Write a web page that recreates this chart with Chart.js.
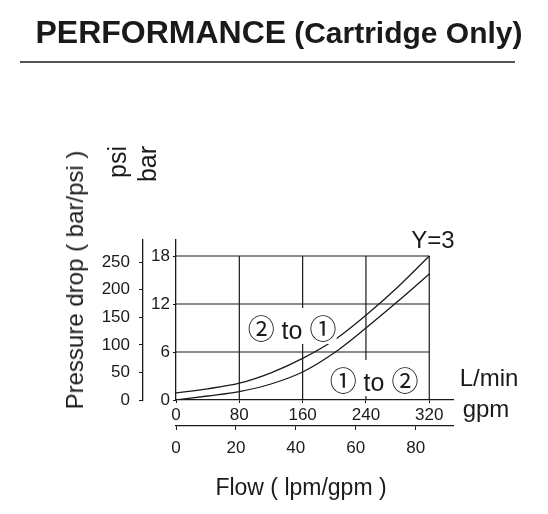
<!DOCTYPE html>
<html>
<head>
<meta charset="utf-8">
<script src="https://cdn.jsdelivr.net/npm/chart.js@4/dist/chart.umd.min.js"></script>
<style>
  html, body { margin: 0; padding: 0; background: #fff; }
  #wrap { position: relative; width: 548px; height: 514px; overflow: hidden;
          font-family: "Liberation Sans", Arial, "Noto Sans CJK JP", sans-serif; color: #1a1a1a; }
  #chart { position: absolute; left: 0; top: 0; }
  .lbl { position: absolute; white-space: nowrap; transform: translate(-50%, -50%); line-height: 1; }
  .rot { transform: translate(-50%, -50%) rotate(-90deg); }
  .tag { background: #fff; padding: 6px 0 1px; }
  .tag .c { font-family: "Noto Sans CJK JP", "DejaVu Sans", sans-serif; font-size: 27px; }
  #title { position: absolute; left: 5px; width: 548px; top: 14px; text-align: center;
           font-weight: bold; font-size: 32px; }
  #title small { font-size: 30px; margin-left: 8px; }
  #rule { position: absolute; left: 20px; width: 495px; top: 61px; height: 2px; background: #555; }
</style>
</head>
<body>
<div id="wrap">
  <canvas id="chart" width="548" height="514"></canvas>

  <div id="title">PERFORMANCE<small>(Cartridge Only)</small></div>
  <div id="rule"></div>

  <div class="lbl rot" style="left:75px;top:280px;font-size:24px">Pressure drop ( bar/psi )</div>
  <div class="lbl rot" style="left:117px;top:162px;font-size:25px">psi</div>
  <div class="lbl rot" style="left:147px;top:164px;font-size:25px">bar</div>

  <div class="lbl" style="left:433px;top:240px;font-size:24px">Y=3</div>
  <div class="lbl" style="left:489px;top:378px;font-size:24px">L/min</div>
  <div class="lbl" style="left:486px;top:409px;font-size:24px">gpm</div>
  <div class="lbl" style="left:301px;top:487px;font-size:23px">Flow ( lpm/gpm )</div>

  <div class="lbl tag" style="left:292px;top:326px;font-size:25px"><span class="c">②</span> to <span class="c">①</span></div>
  <div class="lbl tag" style="left:374px;top:378px;font-size:25px"><span class="c">①</span> to <span class="c">②</span></div>
</div>

<script>
// ── Data ─────────────────────────────────────────────────────
const FLOW_LPM    = [0, 40, 80, 120, 160, 200, 240, 280, 320];
const DROP_2_TO_1 = [0.9, 1.4, 2.1, 3.4, 5.2, 7.5, 10.6, 14.1, 18.0];   // bar
const DROP_1_TO_2 = [0, 0.5, 1.05, 2.0, 3.5, 5.9, 9.0, 12.3, 15.75];    // bar

const LPM_TICKS = [0, 80, 160, 240, 320];
const GPM_TICKS = [0, 20, 40, 60, 80];
const BAR_TICKS = [0, 6, 12, 18];
const PSI_TICKS = [0, 50, 100, 150, 200, 250];

const LPM_PER_GPM = 3.785;
const PSI_PER_BAR = 14.5038;

// axis lines run a bit past the grid box, as in the drawing
const X_MAX = 350;
const Y_MAX = 20;

const INK = '#1a1a1a';
const TICK_FONT = { size: 17 };

Chart.defaults.font.family = '"Liberation Sans", Arial, sans-serif';
Chart.defaults.color = INK;

// ── Grid box: only over 0..320 lpm and 0..18 bar ─────────────
const gridBox = {
  id: 'gridBox',
  beforeDatasetsDraw(chart) {
    const { ctx, scales: { x, y } } = chart;
    const xEnd = LPM_TICKS[LPM_TICKS.length - 1];
    const yEnd = BAR_TICKS[BAR_TICKS.length - 1];
    ctx.save();
    ctx.strokeStyle = INK;
    ctx.lineWidth = 1.2;
    ctx.beginPath();
    BAR_TICKS.slice(1).forEach(v => {
      const py = y.getPixelForValue(v);
      ctx.moveTo(x.getPixelForValue(0), py);
      ctx.lineTo(x.getPixelForValue(xEnd), py);
    });
    LPM_TICKS.slice(1).forEach(v => {
      const px = x.getPixelForValue(v);
      ctx.moveTo(px, y.getPixelForValue(0));
      ctx.lineTo(px, y.getPixelForValue(yEnd));
    });
    ctx.stroke();
    ctx.restore();
  }
};

const fixed = list => scale => { scale.ticks = list.map(v => ({ value: v })); };

const curve = values => ({
  data: FLOW_LPM.map((f, i) => ({ x: f, y: values[i] })),
  borderColor: INK,
  borderWidth: 1.3,
  pointRadius: 0,
  cubicInterpolationMode: 'monotone',
  fill: false
});

new Chart(document.getElementById('chart'), {
  type: 'line',
  data: { datasets: [curve(DROP_2_TO_1), curve(DROP_1_TO_2)] },
  options: {
    responsive: false,
    animation: false,
    layout: { padding: { left: 100, right: 95, top: 240, bottom: 48 } },
    plugins: { legend: { display: false }, tooltip: { enabled: false } },
    scales: {
      x: {
        type: 'linear', position: 'bottom', weight: 0,
        min: 0, max: X_MAX,
        afterBuildTicks: fixed(LPM_TICKS),
        afterFit: s => { s.height = 26; },
        grid: { drawOnChartArea: false, tickLength: 3, color: INK },
        border: { color: INK, width: 1.3 },
        ticks: { font: TICK_FONT, padding: 2, maxRotation: 0 }
      },
      gpm: {
        type: 'linear', position: 'bottom', weight: 1,
        min: 0, max: X_MAX / LPM_PER_GPM,
        afterBuildTicks: fixed(GPM_TICKS),
        afterFit: s => { s.height = 40; },
        grid: { drawOnChartArea: false, tickLength: 4, color: INK },
        border: { color: INK, width: 1.3 },
        ticks: { font: TICK_FONT, padding: 8, maxRotation: 0 }
      },
      y: {
        type: 'linear', position: 'left', weight: 0,
        min: 0, max: Y_MAX,
        afterBuildTicks: fixed(BAR_TICKS),
        afterFit: s => { s.width = 33; },
        grid: { drawOnChartArea: false, tickLength: 3, color: INK },
        border: { color: INK, width: 1.3 },
        ticks: { font: TICK_FONT, padding: 3 }
      },
      psi: {
        type: 'linear', position: 'left', weight: 1,
        min: 0, max: Y_MAX * PSI_PER_BAR,
        afterBuildTicks: fixed(PSI_TICKS),
        afterFit: s => { s.width = 43; },
        grid: { drawOnChartArea: false, tickLength: 4, color: INK },
        border: { color: INK, width: 1.3 },
        ticks: { font: TICK_FONT, padding: 9 }
      }
    }
  },
  plugins: [gridBox]
});
</script>
</body>
</html>
